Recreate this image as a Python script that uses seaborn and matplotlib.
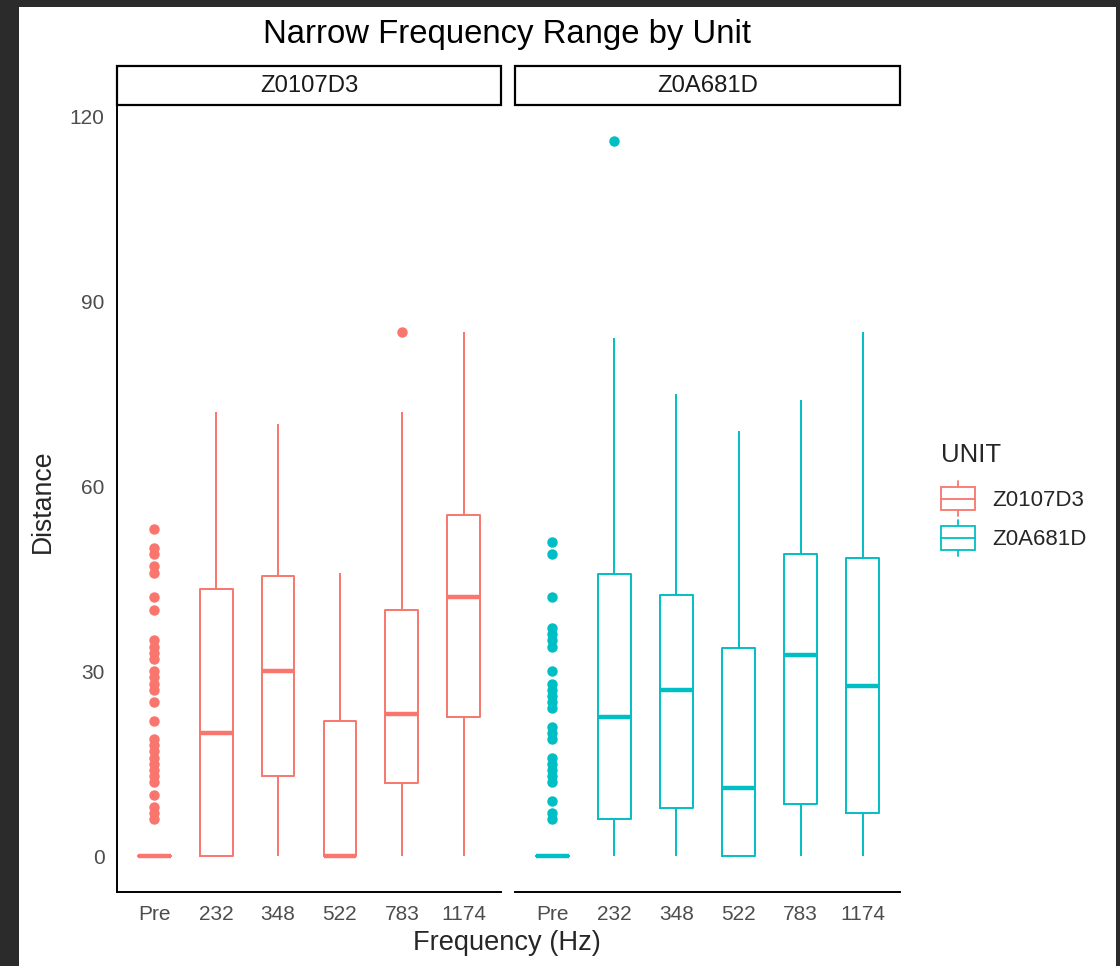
import matplotlib
matplotlib.use("Agg")
import numpy as np
import pandas as pd
import matplotlib.pyplot as plt
import seaborn as sns
from matplotlib.patches import Rectangle, Patch
from matplotlib.lines import Line2D
from matplotlib.legend_handler import HandlerBase

units = ["Z0107D3", "Z0A681D"]
freq_order = ["Pre", "232", "348", "522", "783", "1174"]
unit_colors = ["#F8766D", "#00BFC4"]

# ---- Z0107D3 ----
a_pre_zero_count = 110
a_pre_nonzero = [53, 50, 49, 47, 46, 42, 40, 35, 34, 33, 32, 30, 29, 28, 27,
                 25, 22, 19, 18, 17, 16, 15, 14, 13, 12, 10, 8, 7, 6]
a_232 = [0, 0, 0, 11, 20, 31, 43.3, 58, 72]
a_348 = [0, 6, 13, 22, 30, 38, 45.4, 58, 70]
a_522 = [0, 0, 0, 0, 0, 10, 22, 34, 46]
a_783 = [0, 5, 11.8, 18, 23, 30, 40, 72, 85]
a_1174 = [0, 12, 22.5, 33, 42, 49, 55.4, 70, 85]

# ---- Z0A681D ----
b_pre_zero_count = 90
b_pre_nonzero = [51, 49, 42, 37, 36, 35, 34, 30, 28, 27, 26, 25, 24, 21, 20,
                 19, 16, 15, 14, 13, 12, 9, 7, 6]
b_232 = [0, 3, 6, 15, 22.5, 34, 45.7, 84, 116]
b_348 = [0, 4, 7.8, 18, 27, 35, 42.3, 60, 75]
b_522 = [0, 0, 0, 5, 11, 22, 33.8, 52, 69]
b_783 = [0, 4, 8.4, 20, 32.6, 41, 49, 62, 74]
b_1174 = [0, 3, 7, 16, 27.6, 38, 48.4, 66, 85]

groups_a = [[0] * a_pre_zero_count + a_pre_nonzero, a_232, a_348, a_522, a_783, a_1174]
groups_b = [[0] * b_pre_zero_count + b_pre_nonzero, b_232, b_348, b_522, b_783, b_1174]

rows = []
for unit, groups in zip(units, [groups_a, groups_b]):
    for freq, vals in zip(freq_order, groups):
        for v in vals:
            rows.append((unit, freq, v))
df = pd.DataFrame(rows, columns=["UNIT", "Frequency", "Distance"])


# ggplot-like boxplot key glyph
class BoxKeyHandler(HandlerBase):
    def create_artists(self, legend, orig_handle, xdescent, ydescent,
                       width, height, fontsize, trans):
        col = orig_handle.get_edgecolor()
        x0, y0 = -xdescent, -ydescent
        cx = x0 + width / 2
        lo, hi = y0 + 0.16 * height, y0 + 0.84 * height
        bl, br = x0 + 0.04 * width, x0 + 0.96 * width
        arts = [
            Line2D([cx, cx], [y0, lo], color=col, lw=1.3),
            Line2D([cx, cx], [hi, y0 + height], color=col, lw=1.3),
            Rectangle((bl, lo), br - bl, hi - lo, facecolor="white", edgecolor=col, lw=1.3),
            Line2D([bl, br], [(lo + hi) / 2] * 2, color=col, lw=1.3),
        ]
        for a in arts:
            a.set_transform(trans)
        return arts


sns.set_style("white")
plt.rcParams["font.family"] = ["Liberation Sans", "DejaVu Sans"]

W, H = 1120, 966
fig = plt.figure(figsize=(W / 100, H / 100), dpi=100)
fig.patch.set_facecolor("white")

# dark screenshot border
for (x, y, w, h) in [(0, 0, 19, H), (1116, 0, 4, H), (0, H - 7, W, 7)]:
    fig.patches.append(Rectangle((x / W, y / H), w / W, h / H, transform=fig.transFigure,
                                 facecolor="#2b2b2b", edgecolor="none", zorder=-1))

ax1 = fig.add_axes([117 / W, 74 / H, 384 / W, 787 / H])
ax2 = fig.add_axes([515 / W, 74 / H, 385 / W, 787 / H])

for ax, unit, col in zip([ax1, ax2], units, unit_colors):
    sub = df[df["UNIT"] == unit]
    sns.boxplot(data=sub, x="Frequency", y="Distance", order=freq_order, color=col,
                fill=False, width=0.53, linewidth=1.4, showcaps=False, whis=1.5,
                flierprops=dict(marker="o", markerfacecolor=col, markeredgecolor=col,
                                markersize=6.5),
                medianprops=dict(linewidth=3.2), ax=ax)
    for ln in ax.lines:
        if ln.get_marker() == "o":
            ln.set_markerfacecolor(col)
            ln.set_markeredgecolor(col)
    ax.set_xlim(-0.6, 5.6)
    ax.set_ylim(-5.8, 121.8)
    ax.set_yticks([0, 30, 60, 90, 120])
    ax.set_xlabel("")
    ax.set_ylabel("")
    ax.grid(False)
    for s in ["top", "right"]:
        ax.spines[s].set_visible(False)
    for s in ["left", "bottom"]:
        ax.spines[s].set_linewidth(1.4)
        ax.spines[s].set_color("black")
    ax.tick_params(axis="both", direction="out", length=5, width=1.1, color="#333333",
                   labelcolor="#4D4D4D", labelsize=15, pad=4)
    # facet strip
    ax.add_patch(Rectangle((0, 1.0), 1, 39 / 787, transform=ax.transAxes, clip_on=False,
                           facecolor="white", edgecolor="black", lw=1.6))
    ax.text(0.5, 1.0 + 19.5 / 787, unit, transform=ax.transAxes, ha="center", va="center",
            fontsize=17.2, color="#1A1A1A")

ax2.spines["left"].set_visible(False)
ax2.tick_params(axis="y", left=False, labelleft=False)

fig.text(507 / W, 1 - 35 / H, "Narrow Frequency Range by Unit", ha="center", va="center",
         fontsize=23.7, color="black")
fig.text(507 / W, 1 - 943 / H, "Frequency (Hz)", ha="center", va="center", fontsize=19.6)
fig.text(43 / W, 1 - 501 / H, "Distance", ha="center", va="center", rotation=90, fontsize=19.2)

# legend: title placed separately so the keys can sit a little lower
fig.text(941 / W, 1 - 455 / H, "UNIT", ha="left", va="center", fontsize=18.5)
handles = [Patch(edgecolor=c, facecolor="white", label=u) for u, c in zip(units, unit_colors)]
fig.legend(handles=handles, loc="upper left",
           bbox_to_anchor=(940 / W, 1 - 481 / H), frameon=False, fontsize=16,
           handler_map={Patch: BoxKeyHandler()},
           handlelength=1.65, handleheight=2.05, labelspacing=0.2, handletextpad=0.7,
           borderaxespad=0, borderpad=0)

fig.savefig("out.png", dpi=100)
